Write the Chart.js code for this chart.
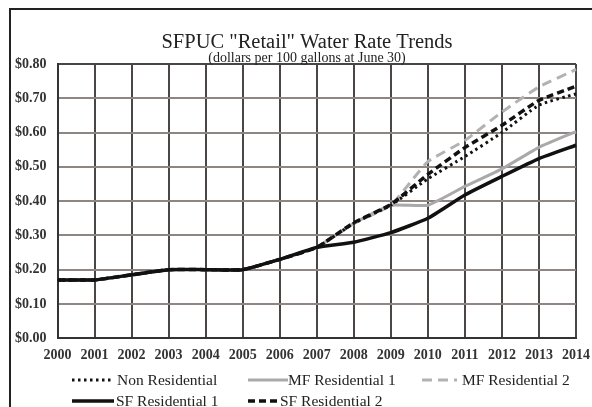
<!DOCTYPE html>
<html>
<head>
<meta charset="utf-8">
<script src="https://cdn.jsdelivr.net/npm/chart.js@4/dist/chart.umd.min.js"></script>
<style>
  html, body { margin: 0; padding: 0; background: #fff; }
  #wrap { position: relative; width: 592px; height: 407px; overflow: hidden; }
  #frame { position: absolute; left: 9px; top: 8px; width: 640px; height: 460px; border-left: 2px solid #222; border-top: 2px solid #222; }
  canvas { position: absolute; left: 0; top: 0; }
</style>
</head>
<body>
<div id="wrap">
  <div id="frame"></div>
  <canvas id="lineChart" width="592" height="407"></canvas>
</div>
<script>
const years = ["2000", "2001", "2002", "2003", "2004", "2005", "2006", "2007",
  "2008", "2009", "2010", "2011", "2012", "2013", "2014"];
// dollars per 100 gallons at June 30
const sfResidential1 = [0.17, 0.17, 0.185, 0.20, 0.20, 0.20, 0.23, 0.265, 0.28, 0.308, 0.35, 0.418, 0.472, 0.524, 0.563];
const sfResidential2 = [0.17, 0.17, 0.185, 0.20, 0.20, 0.20, 0.23, 0.265, 0.337, 0.39, 0.478, 0.556, 0.621, 0.694, 0.735];
const nonResidential = [0.17, 0.17, 0.185, 0.20, 0.20, 0.20, 0.23, 0.265, 0.335, 0.388, 0.465, 0.53, 0.60, 0.68, 0.713];
const mfResidential1 = [0.17, 0.17, 0.185, 0.20, 0.20, 0.20, 0.23, 0.265, 0.335, 0.388, 0.388, 0.443, 0.494, 0.557, 0.603];
const mfResidential2 = [0.17, 0.17, 0.185, 0.20, 0.20, 0.20, 0.23, 0.265, 0.335, 0.388, 0.515, 0.577, 0.66, 0.733, 0.784];
const yTicks = [0, 0.1, 0.2, 0.3, 0.4, 0.5, 0.6, 0.7, 0.8];

const serif = "'Liberation Serif', 'Times New Roman', serif";

// legend entry: sample start x, row y, sample width, text x
const legendSlots = {
  "Non Residential": [72, 380, 39, 117],
  "MF Residential 1": [248, 380, 40, 288],
  "MF Residential 2": [422, 380, 35, 462],
  "SF Residential 1": [72, 401, 42, 116],
  "SF Residential 2": [248, 401, 29, 280],
};

// title, subtitle and the two-row legend
const decorations = {
  id: "decorations",
  afterDraw(chart) {
    const c = chart.ctx;
    c.save();
    c.fillStyle = "#222";
    c.textAlign = "center";
    c.textBaseline = "alphabetic";
    c.font = "20.5px " + serif;
    c.fillText('SFPUC "Retail" Water Rate Trends', 307, 48);
    c.font = "14px " + serif;
    c.fillText("(dollars per 100 gallons at June 30)", 307, 62);

    c.textAlign = "left";
    c.textBaseline = "middle";
    c.font = "15.5px " + serif;
    chart.data.datasets.forEach((ds) => {
      const slot = legendSlots[ds.label];
      if (!slot) return;
      const [x, y, w, tx] = slot;
      c.save();
      c.strokeStyle = ds.borderColor;
      c.lineWidth = ds.borderWidth;
      c.setLineDash(ds.borderDash || []);
      c.beginPath();
      c.moveTo(x, y);
      c.lineTo(x + w, y);
      c.stroke();
      c.restore();
      c.fillStyle = "#222";
      c.fillText(ds.label, tx, y + 1);
    });
    c.restore();
  },
};

const ctx = document.getElementById("lineChart").getContext("2d");
const lineChart = new Chart(ctx, {
  type: "line",
  data: {
    labels: years,
    datasets: [
      {
        label: "SF Residential 1",
        data: sfResidential1,
        borderColor: "#111",
        borderWidth: 3.5,
      },
      {
        label: "SF Residential 2",
        data: sfResidential2,
        borderColor: "#111",
        borderWidth: 3.5,
        borderDash: [7, 4],
      },
      {
        label: "Non Residential",
        data: nonResidential,
        borderColor: "#111",
        borderWidth: 3,
        borderDash: [2.5, 3.5],
      },
      {
        label: "MF Residential 2",
        data: mfResidential2,
        borderColor: "#b2b2b2",
        borderWidth: 3,
        borderDash: [10, 6],
      },
      {
        label: "MF Residential 1",
        data: mfResidential1,
        borderColor: "#a9a9a9",
        borderWidth: 3,
      },
    ],
  },
  options: {
    responsive: false,
    animation: false,
    layout: { padding: { left: 4, right: 16, top: 64, bottom: 34 } },
    elements: {
      point: { radius: 0 },
      line: { tension: 0.15, fill: false, borderCapStyle: "butt" },
    },
    scales: {
      x: {
        offset: false,
        afterFit: (scale) => { scale.paddingRight = 0; },
        grid: { color: "#4a4646", lineWidth: 2, drawTicks: false },
        border: { color: "#333", width: 2 },
        ticks: {
          color: "#333",
          padding: 9,
          maxRotation: 0,
          autoSkip: false,
          font: { family: serif, size: 14, weight: "bold" },
        },
      },
      y: {
        min: 0,
        max: 0.8,
        afterBuildTicks: (axis) => { axis.ticks = yTicks.map((v) => ({ value: v })); },
        grid: {
          color: (c) => (c.tick && c.tick.value >= 0.79 ? "#4a4646" : "#8e8682"),
          lineWidth: 2,
          drawTicks: false,
        },
        border: { color: "#333", width: 2 },
        ticks: {
          color: "#333",
          padding: 11,
          font: { family: serif, size: 14, weight: "bold" },
          callback: function (value) {
            return "$" + Number(value).toFixed(2);
          },
        },
      },
    },
    plugins: {
      legend: { display: false },
      tooltip: { enabled: false },
      title: { display: false },
    },
  },
  plugins: [decorations],
});
</script>
</body>
</html>
